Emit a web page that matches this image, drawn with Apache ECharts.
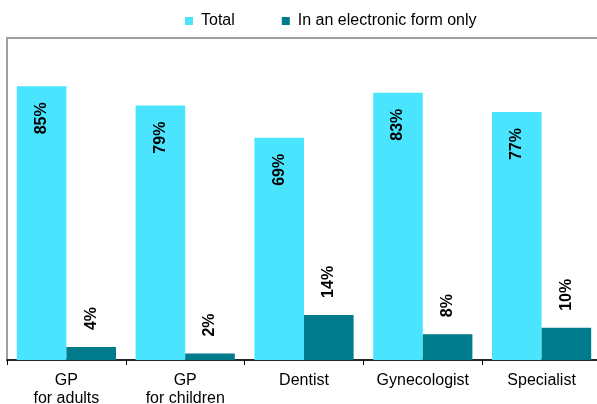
<!DOCTYPE html>
<html>
<head>
<meta charset="utf-8">
<script src="https://cdn.jsdelivr.net/npm/echarts@6/dist/echarts.min.js"></script>
<style>
html,body{margin:0;padding:0;background:#fff;}
#chart{width:597px;height:404px;}
</style>
</head>
<body>
<div id="chart"></div>
<script>
const categories = ['GP\nfor adults', 'GP\nfor children', 'Dentist', 'Gynecologist', 'Specialist'];
const seriesNames = ['Total', 'In an electronic form only'];
const totalValues = [85, 79, 69, 83, 77];
const electronicValues = [4, 2, 14, 8, 10];

const FONT = '"Liberation Sans", Arial, sans-serif';
const chart = echarts.init(document.getElementById('chart'), null, {renderer: 'canvas'});
chart.setOption({
  animation: false,
  textStyle: {fontFamily: FONT},
  legend: {
    top: 8, left: 180,
    itemWidth: 8, itemHeight: 8, itemGap: 47,
    icon: 'rect',
    textStyle: {fontFamily: FONT, fontSize: 16, color: '#000', padding: [0, 0, 0, 3]},
    data: seriesNames
  },
  grid: {
    left: 7, top: 38, right: -4, bottom: 44,
    outerBoundsMode: 'none', containLabel: false,
    show: true, borderColor: '#a0a0a0', borderWidth: 2, backgroundColor: 'transparent'
  },
  xAxis: {
    type: 'category',
    data: categories,
    axisLine: {lineStyle: {color: '#000', width: 1.5}},
    axisTick: {show: true, length: 5, lineStyle: {color: '#000', width: 1}},
    axisLabel: {interval: 0, color: '#000', fontSize: 16, fontFamily: FONT, margin: 12, lineHeight: 18}
  },
  yAxis: {
    type: 'value', min: 0, max: 100, show: false,
    splitLine: {show: false}
  },
  series: [
    {
      name: seriesNames[0], type: 'bar', data: totalValues,
      barGap: '0%', barCategoryGap: '16.5%',
      itemStyle: {color: '#4ae4ff'},
      label: {
        show: true, position: 'insideTop', distance: 16, rotate: 90,
        align: 'right', verticalAlign: 'middle',
        formatter: '{c}%', fontSize: 16, fontWeight: 'bold', color: '#000', fontFamily: FONT
      }
    },
    {
      name: seriesNames[1], type: 'bar', data: electronicValues,
      itemStyle: {color: '#007b8c'},
      label: {
        show: true, position: 'top', distance: 17, rotate: 90,
        align: 'left', verticalAlign: 'middle',
        formatter: '{c}%', fontSize: 16, fontWeight: 'bold', color: '#000', fontFamily: FONT
      }
    }
  ]
});
</script>
</body>
</html>
